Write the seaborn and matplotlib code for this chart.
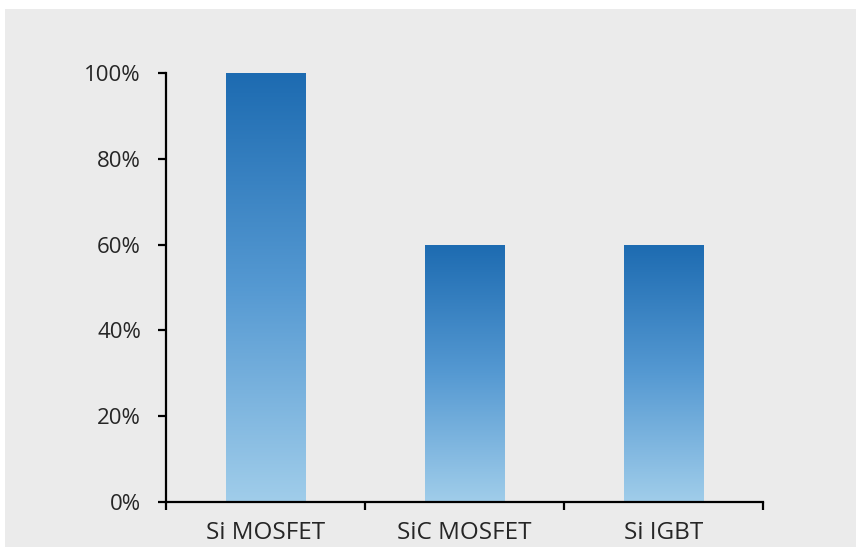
import numpy as np
import pandas as pd
import matplotlib
matplotlib.use("Agg")
import matplotlib.pyplot as plt
from matplotlib.colors import LinearSegmentedColormap
from matplotlib.patches import Rectangle
from matplotlib.ticker import FixedLocator, PercentFormatter
import seaborn as sns

devices = ["Si MOSFET", "SiC MOSFET", "Si IGBT"]
share = [1.00, 0.60, 0.60]
y_ticks = [0.0, 0.2, 0.4, 0.6, 0.8, 1.0]

sns.set_theme(style="white")
plt.rcParams["font.family"] = ["Open Sans", "DejaVu Sans"]

bg = "#ebebeb"
fig = plt.figure(figsize=(8.56, 5.47), dpi=100, facecolor="white")
fig.patches.append(Rectangle((5 / 856, 0), 1, 1 - 9 / 547, transform=fig.transFigure,
                             facecolor=bg, edgecolor="none", zorder=-10))
ax = fig.add_axes([166 / 856, 45 / 547, 597 / 856, 429 / 547])
ax.set_facecolor(bg)

df = pd.DataFrame({"device": devices, "share": share})
sns.barplot(data=df, x="device", y="share", width=0.4, ax=ax, color="#4a90cc")

ax.set_xlim(-0.5, len(devices) - 0.5)
ax.set_ylim(0, 1.0)

# vertical blue gradient inside every bar: dark at top, light at bottom
cmap = LinearSegmentedColormap.from_list("bar_grad", ["#a0cdea", "#5599d2", "#1d6bb1"])
grad = np.linspace(0, 1, 256).reshape(-1, 1)
for patch in list(ax.patches):
    x0, y0 = patch.get_x(), patch.get_y()
    w, h = patch.get_width(), patch.get_height()
    im = ax.imshow(grad, cmap=cmap, origin="lower", aspect="auto",
                   extent=(x0, x0 + w, y0, y0 + h), zorder=2)
    im.set_clip_path(patch)
    patch.set_facecolor("none")
    patch.set_edgecolor("none")
ax.set_xlim(-0.5, len(devices) - 0.5)
ax.set_ylim(0, 1.0)

# spines and ticks
for side in ("top", "right"):
    ax.spines[side].set_visible(False)
for side in ("left", "bottom"):
    ax.spines[side].set_color("black")
    ax.spines[side].set_linewidth(1.6)

ax.yaxis.set_major_locator(FixedLocator(y_ticks))
ax.yaxis.set_major_formatter(PercentFormatter(1.0, decimals=0))
ax.tick_params(axis="y", direction="out", length=6, width=1.6, color="black",
               pad=12, labelsize=16, labelcolor="#262626", left=True)

ax.xaxis.set_major_locator(FixedLocator([-0.5, 0.5, 1.5, 2.5]))
ax.xaxis.set_minor_locator(FixedLocator(range(len(devices))))
ax.set_xticklabels([], minor=False)
ax.set_xticklabels(devices, minor=True)
ax.tick_params(axis="x", which="major", direction="out", length=6, width=1.6,
               color="black", bottom=True)
ax.tick_params(axis="x", which="minor", length=0, pad=14, labelsize=17.5,
               labelcolor="#262626")

ax.set_xlabel("")
ax.set_ylabel("")

fig.savefig("out.png", dpi=100, facecolor=fig.get_facecolor())
